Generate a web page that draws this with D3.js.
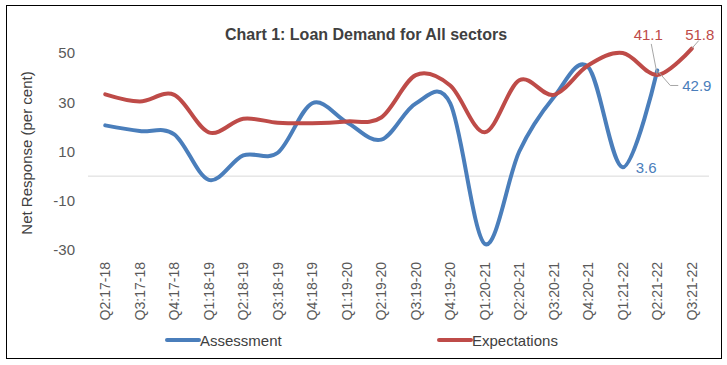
<!DOCTYPE html>
<html><head><meta charset="utf-8">
<script src="https://cdn.jsdelivr.net/npm/d3@7"></script>
<style>body{margin:0;background:#fff}svg{display:block;font-family:"Liberation Sans",Arial,sans-serif}</style>
</head><body>
<svg id="c" width="727" height="365"></svg>
<script>
const categories = ["Q2:17-18","Q3:17-18","Q4:17-18","Q1:18-19","Q2:18-19","Q3:18-19","Q4:18-19","Q1:19-20","Q2:19-20","Q3:19-20","Q4:19-20","Q1:20-21","Q2:20-21","Q3:20-21","Q4:20-21","Q1:21-22","Q2:21-22","Q3:21-22"];
const assessment = [20.6,18.3,17,-1.5,8.4,9.5,29.6,21.9,14.8,29.5,29.5,-27.5,10,32,44.3,3.6,42.9,null];
const expectations = [33.2,30.3,33,17.8,23.3,21.7,21.5,22.2,23.8,41,36.8,17.8,38.9,33,45,50,41.1,51.8];
const yTicks = [-30,-10,10,30,50];
const seriesNames = ["Assessment","Expectations"];
const colors = ["#4A7EBB","#BE4B48"];

const svg = d3.select("#c");
svg.append("rect").attr("x",6.5).attr("y",5.5).attr("width",715).attr("height",353)
  .attr("fill","#fff").attr("stroke","#000").attr("stroke-width",1);

const x = d3.scaleBand().domain(categories).range([88,709]).padding(0);
const cx = c => x(c) + x.bandwidth()/2;
const y = d3.scaleLinear().domain([-30,50]).range([250,53]);

// title
svg.append("text").attr("x",366).attr("y",40).attr("text-anchor","middle")
  .attr("font-size",16).attr("font-weight","bold").attr("fill","#404040")
  .text("Chart 1: Loan Demand for All sectors");

// zero line
svg.append("line").attr("x1",88).attr("x2",709).attr("y1",y(0)).attr("y2",y(0))
  .attr("stroke","#D9D9D9").attr("stroke-width",1);

// y axis
const ya = svg.append("g").attr("transform","translate(75,0)")
  .call(d3.axisLeft(y).tickValues(yTicks).tickSize(0).tickPadding(0).tickFormat(d=>String(d)));
ya.select(".domain").remove();
ya.selectAll("text").attr("font-size",15).attr("fill","#595959").attr("font-family","Liberation Sans, Arial, sans-serif");

svg.append("text").attr("transform","translate(32,153) rotate(-90)").attr("text-anchor","middle")
  .attr("font-size",15).attr("fill","#404040").text("Net Response (per cent)");

// x axis labels
const xa = svg.append("g").attr("transform","translate(0,262)")
  .call(d3.axisBottom(x).tickSize(0).tickPadding(0));
xa.select(".domain").remove();
xa.selectAll("text").attr("font-size",14).attr("fill","#595959").attr("font-family","Liberation Sans, Arial, sans-serif")
  .attr("text-anchor","end").attr("transform","rotate(-90)").attr("x",0).attr("y",0).attr("dy","0.35em");

// lines
const line = d3.line().defined(d=>d.v!=null).x(d=>cx(d.c)).y(d=>y(d.v)).curve(d3.curveCatmullRom.alpha(0));
[assessment,expectations].forEach((arr,i)=>{
  svg.append("path").datum(categories.map((c,j)=>({c,v:arr[j]})))
    .attr("d",line).attr("fill","none").attr("stroke",colors[i]).attr("stroke-width",4)
    .attr("stroke-linecap","round");
});

// data labels
const lblCol = "#A6A6A6";
const iQ1 = 15, iQ2 = 16, iQ3 = 17;
// 3.6
svg.append("text").attr("x",cx(categories[iQ1])+13).attr("y",y(assessment[iQ1])+6)
  .attr("font-size",15).attr("fill",colors[0]).text(assessment[iQ1].toFixed(1));
// 42.9 with leader
const bx = cx(categories[iQ2]), by = y(assessment[iQ2]);
svg.append("polyline").attr("points",`${bx},${by} ${bx+13},${by+15} ${bx+21},${by+15}`)
  .attr("fill","none").attr("stroke",lblCol).attr("stroke-width",1);
svg.append("text").attr("x",bx+25).attr("y",by+21).attr("font-size",15).attr("fill",colors[0])
  .text(assessment[iQ2].toFixed(1));
// 41.1 with leader
const rx = cx(categories[iQ2]), ry = y(expectations[iQ2]);
svg.append("line").attr("x1",rx).attr("y1",ry).attr("x2",rx-6).attr("y2",ry-31)
  .attr("stroke",lblCol).attr("stroke-width",1);
svg.append("text").attr("x",rx-9).attr("y",ry-35).attr("text-anchor","middle").attr("font-size",15)
  .attr("fill",colors[1]).text(expectations[iQ2].toFixed(1));
// 51.8 with leader
const ex = cx(categories[iQ3]), ey = y(expectations[iQ3]);
svg.append("line").attr("x1",ex).attr("y1",ey).attr("x2",ex+7).attr("y2",ey-8)
  .attr("stroke",lblCol).attr("stroke-width",1);
svg.append("text").attr("x",ex+8).attr("y",ey-9).attr("text-anchor","middle").attr("font-size",15)
  .attr("fill",colors[1]).text(expectations[iQ3].toFixed(1));

// legend
const leg = [[167,seriesNames[0]],[439,seriesNames[1]]];
leg.forEach(([lx,name],i)=>{
  svg.append("line").attr("x1",lx).attr("x2",lx+32).attr("y1",340).attr("y2",340)
    .attr("stroke",colors[i]).attr("stroke-width",4).attr("stroke-linecap","round");
  svg.append("text").attr("x",lx+33).attr("y",345.5).attr("font-size",15).attr("fill","#404040").text(name);
});
</script>
</body></html>
